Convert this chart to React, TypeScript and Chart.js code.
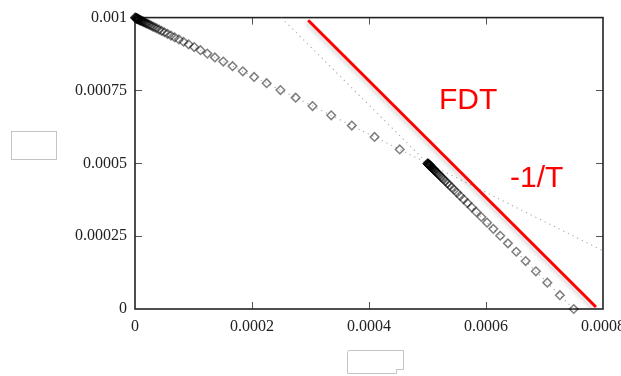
import React, { useEffect, useRef } from 'react';
import { Chart, registerables } from 'chart.js';

Chart.register(...registerables);

// Axis ticks
const xTicks = [0, 0.0002, 0.0004, 0.0006, 0.0008];
const xTickLabels = ['0', '0.0002', '0.0004', '0.0006', '0.0008'];
const yTicks = [0, 0.00025, 0.0005, 0.00075, 0.001];
const yTickLabels = ['0', '0.00025', '0.0005', '0.00075', '0.001'];

// Short-time branch (C, chi), sampled on a log time grid
const shortC = [
  0.0004525, 0.0004095, 0.0003706, 0.0003354, 0.0003035, 0.0002747, 0.0002486, 0.000225,
  0.0002036, 0.0001843, 0.0001668, 0.0001509, 0.0001366, 0.0001236, 0.0001119, 0.0001012,
  0.0000916, 0.0000829, 0.000075, 0.0000679, 0.0000615, 0.0000556, 0.0000503, 0.0000456,
  0.0000412, 0.0000373, 0.0000338, 0.0000306, 0.0000277, 0.000025, 0.0000227, 0.0000205,
  0.0000186, 0.0000168, 0.0000152, 0.0000138, 0.0000124, 0.0000113, 0.0000102, 0.0000092,
  0.0000083, 0.0000076, 0.0000068, 0.0000062, 0.0000056, 0.0000051, 0.0000046, 0.0000042,
  0.0000038, 0.0000034, 0.000003, 0.0000024, 0.0000018, 0.0000012, 0.0000006, 0,
];
const shortChi = [
  0.0005475, 0.0005905, 0.0006294, 0.0006646, 0.0006965, 0.0007253, 0.0007514, 0.000775,
  0.0007964, 0.0008157, 0.0008332, 0.0008491, 0.0008634, 0.0008764, 0.0008881, 0.0008988,
  0.0009084, 0.0009171, 0.000925, 0.0009321, 0.0009385, 0.0009444, 0.0009497, 0.0009544,
  0.0009588, 0.0009627, 0.0009662, 0.0009694, 0.0009723, 0.000975, 0.0009773, 0.0009795,
  0.0009814, 0.0009832, 0.0009848, 0.0009862, 0.0009876, 0.0009887, 0.0009898, 0.0009908,
  0.0009917, 0.0009924, 0.0009932, 0.0009938, 0.0009944, 0.0009949, 0.0009954, 0.0009958,
  0.0009962, 0.0009966, 0.000997, 0.0009976, 0.0009982, 0.0009988, 0.0009994, 0.001,
];

// Aging branch (C, chi)
const longC = [
  0.00075, 0.0007263, 0.0007048, 0.0006853, 0.0006677, 0.0006518, 0.0006374, 0.0006243,
  0.0006125, 0.0006018, 0.0005921, 0.0005834, 0.0005755, 0.0005683, 0.0005618, 0.0005559,
  0.0005506, 0.0005458, 0.0005415, 0.0005375, 0.000534, 0.0005307, 0.0005278, 0.0005252,
  0.0005228, 0.0005206, 0.0005187, 0.0005169, 0.0005153, 0.0005138, 0.0005125, 0.0005113,
  0.0005103, 0.0005093, 0.0005084, 0.0005076, 0.0005069, 0.0005062, 0.0005056, 0.0005051,
  0.0005046, 0.0005042, 0.0005038, 0.0005034, 0.0005031, 0.0005028, 0.0005025, 0.0005023,
  0.0005021, 0.0005019, 0.0005017, 0.0005012, 0.0005008, 0.0005004, 0.0005,
];
const longChi = [
  0, 0.0000475, 0.0000905, 0.0001294, 0.0001646, 0.0001965, 0.0002253, 0.0002514,
  0.000275, 0.0002964, 0.0003157, 0.0003332, 0.0003491, 0.0003634, 0.0003764, 0.0003881,
  0.0003988, 0.0004084, 0.0004171, 0.000425, 0.0004321, 0.0004385, 0.0004444, 0.0004497,
  0.0004544, 0.0004588, 0.0004627, 0.0004662, 0.0004694, 0.0004723, 0.000475, 0.0004773,
  0.0004795, 0.0004814, 0.0004832, 0.0004848, 0.0004863, 0.0004876, 0.0004887, 0.0004898,
  0.0004908, 0.0004917, 0.0004924, 0.0004932, 0.0004938, 0.0004944, 0.0004949, 0.0004954,
  0.0004958, 0.0004962, 0.0004966, 0.0004976, 0.0004984, 0.0004992, 0.0005,
];

// FDT line and the two reference slopes
const fdtC = [0.000296, 0.000788];
const fdtChi = [0.000991, 0.000007];
const slopeOneC = [0, 0.0008];
const slopeOneChi = [0.001, 0.0002];
const slopeTwoC = [0.00025, 0.00075];
const slopeTwoChi = [0.001, 0];

const toPoints = (xs: number[], ys: number[]) => xs.map((x, i) => ({ x, y: ys[i] }));

const W = 640;
const H = 376;

const shadowPlugin = {
  id: 'lineShadow',
  beforeDatasetDraw(chart: any, args: any) {
    if (args.index !== 0) return;
    const ctx = chart.ctx;
    ctx.save();
    ctx.shadowColor = 'rgba(0,0,0,0.2)';
    ctx.shadowBlur = 4;
    ctx.shadowOffsetX = -2;
    ctx.shadowOffsetY = 2;
  },
  afterDatasetDraw(chart: any, args: any) {
    if (args.index !== 0) return;
    chart.ctx.restore();
  },
};

const framePlugin = {
  id: 'frame',
  beforeDatasetsDraw(chart: any) {
    const { ctx, chartArea: a, scales } = chart;
    ctx.save();
    ctx.strokeStyle = '#555';
    ctx.lineWidth = 1;
    const tl = 7;
    xTicks.forEach((v) => {
      if (v === xTicks[0] || v === xTicks[xTicks.length - 1]) return;
      const px = Math.round(scales.x.getPixelForValue(v)) + 0.5;
      ctx.beginPath();
      ctx.moveTo(px, a.bottom);
      ctx.lineTo(px, a.bottom - tl);
      ctx.moveTo(px, a.top);
      ctx.lineTo(px, a.top + tl);
      ctx.stroke();
    });
    yTicks.forEach((v) => {
      if (v === yTicks[0] || v === yTicks[yTicks.length - 1]) return;
      const py = Math.round(scales.y.getPixelForValue(v)) + 0.5;
      ctx.beginPath();
      ctx.moveTo(a.left, py);
      ctx.lineTo(a.left + tl, py);
      ctx.moveTo(a.right, py);
      ctx.lineTo(a.right - tl, py);
      ctx.stroke();
    });
    ctx.strokeStyle = '#222';
    ctx.lineWidth = 1.6;
    ctx.strokeRect(a.left, a.top, a.right - a.left, a.bottom - a.top);
    ctx.restore();
  },
  afterDatasetsDraw(chart: any) {
    const { ctx, scales } = chart;
    ctx.save();
    ctx.fillStyle = '#ff0000';
    ctx.font = '30px "Liberation Sans", Arial, sans-serif';
    ctx.textAlign = 'left';
    ctx.textBaseline = 'alphabetic';
    ctx.fillText('FDT', scales.x.getPixelForValue(0.0005197), scales.y.getPixelForValue(0.000688));
    ctx.fillText('-1/T', scales.x.getPixelForValue(0.000641), scales.y.getPixelForValue(0.000418));
    ctx.restore();
  },
  afterDraw(chart: any) {
    const ctx = chart.ctx;
    ctx.save();
    ctx.fillStyle = '#ffffff';
    ctx.strokeStyle = '#c4c4c4';
    ctx.lineWidth = 1;
    // empty axis-title boxes
    ctx.fillRect(12, 131, 45, 28);
    ctx.strokeRect(11.5, 131.5, 45, 28);
    ctx.beginPath();
    ctx.moveTo(347.5, 352.5);
    ctx.lineTo(348.5, 350.5);
    ctx.lineTo(403.5, 350.5);
    ctx.lineTo(403.5, 369.5);
    ctx.lineTo(396.5, 369.5);
    ctx.lineTo(396.5, 373.5);
    ctx.lineTo(347.5, 373.5);
    ctx.closePath();
    ctx.fill();
    ctx.stroke();
    ctx.restore();
  },
};

export default function App() {
  const ref = useRef<HTMLCanvasElement>(null);

  useEffect(() => {
    if (!ref.current) return;
    const tickFont = { family: '"Liberation Serif", "DejaVu Serif", serif', size: 16 };
    const diamond = {
      showLine: false,
      pointStyle: 'rectRot',
      pointRadius: 4.3,
      borderWidth: 1.5,
      borderColor: 'rgba(0,0,0,0.5)',
      backgroundColor: 'rgba(0,0,0,0)',
      clip: false,
    };
    const chart = new Chart(ref.current, {
      type: 'scatter',
      data: {
        datasets: [
          {
            label: 'FDT',
            data: toPoints(fdtC, fdtChi),
            showLine: true,
            borderColor: '#ff0000',
            borderWidth: 3,
            pointRadius: 0,
            fill: false,
          },
          { label: 'short', data: toPoints(shortC, shortChi), ...diamond },
          { label: 'aging', data: toPoints(longC, longChi), ...diamond },
          {
            label: 'slope -1',
            data: toPoints(slopeOneC, slopeOneChi),
            showLine: true,
            borderColor: '#a8a8a8',
            borderWidth: 1.1,
            borderDash: [1.2, 4],
            pointRadius: 0,
          },
          {
            label: 'slope -2',
            data: toPoints(slopeTwoC, slopeTwoChi),
            showLine: true,
            borderColor: '#a8a8a8',
            borderWidth: 1.1,
            borderDash: [1.2, 4],
            pointRadius: 0,
          },
        ],
      },
      options: {
        animation: false,
        responsive: false,
        devicePixelRatio: 1,
        layout: { padding: { left: 0, top: 15, right: W - 603, bottom: 0 } },
        plugins: { legend: { display: false }, tooltip: { enabled: false } },
        scales: {
          x: {
            type: 'linear',
            min: 0,
            max: 0.0008,
            afterBuildTicks: (s: any) => {
              s.ticks = xTicks.map((v) => ({ value: v }));
            },
            afterFit: (s: any) => {
              s.height = H - 309;
            },
            ticks: {
              callback: (_v: any, i: number) => xTickLabels[i],
              font: tickFont,
              color: '#222',
              padding: 8,
              maxRotation: 0,
              autoSkip: false,
            },
            grid: { display: false, drawTicks: false },
            border: { display: false },
          },
          y: {
            type: 'linear',
            min: 0,
            max: 0.001,
            afterBuildTicks: (s: any) => {
              s.ticks = yTicks.map((v) => ({ value: v }));
            },
            afterFit: (s: any) => {
              s.width = 135;
            },
            ticks: {
              callback: (_v: any, i: number) => yTickLabels[i],
              font: tickFont,
              color: '#222',
              padding: 8,
              autoSkip: false,
            },
            grid: { display: false, drawTicks: false },
            border: { display: false },
          },
        },
      },
      plugins: [shadowPlugin, framePlugin],
    } as any);
    return () => chart.destroy();
  }, []);

  return (
    <div
      style={{
        position: 'fixed',
        left: 0,
        top: 0,
        width: 621,
        height: 376,
        overflow: 'hidden',
        background: '#fff',
      }}
    >
      <canvas ref={ref} width={W} height={H} style={{ display: 'block', width: W, height: H }} />
    </div>
  );
}
